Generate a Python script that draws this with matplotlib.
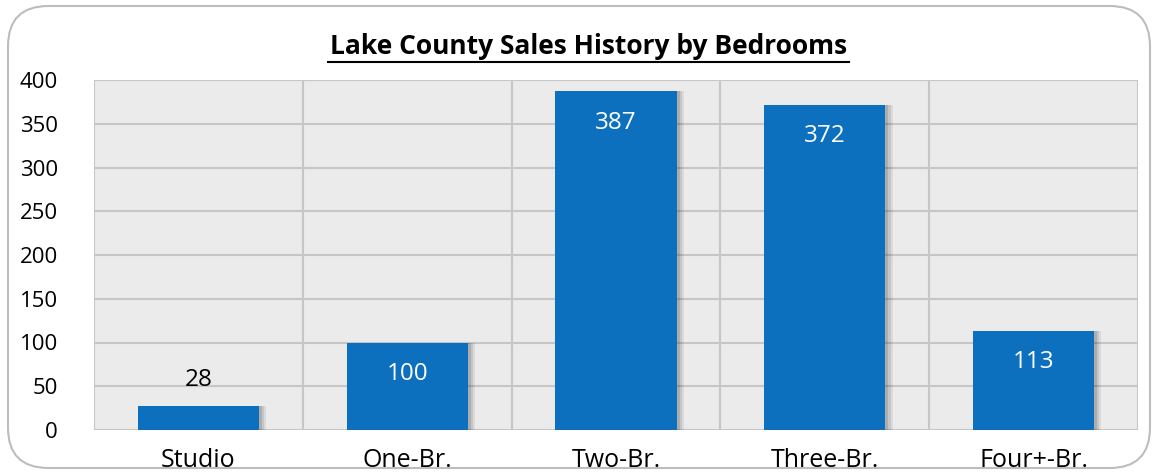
import matplotlib.pyplot as plt
import matplotlib.patches as mpatches
import numpy as np

categories = ['Studio', 'One-Br.', 'Two-Br.', 'Three-Br.', 'Four+-Br.']
sales = [28, 100, 387, 372, 113]
y_ticks = [0, 50, 100, 150, 200, 250, 300, 350, 400]

plt.rcParams['font.family'] = ['Open Sans', 'DejaVu Sans']

fig = plt.figure(figsize=(11.55, 4.74), dpi=100)

# rounded outer frame, kept behind the axes
frame = mpatches.FancyBboxPatch((8 / 1155, 6 / 474), 1142 / 1155, 462 / 474,
                                boxstyle='round,pad=0,rounding_size=0.035',
                                transform=fig.transFigure, facecolor='white',
                                edgecolor='#BDBDBD', linewidth=1.5, zorder=-5,
                                mutation_aspect=1155 / 474)
fig.patches.append(frame)

ax = fig.add_axes([94 / 1155, 44 / 474, 1044 / 1155, 350 / 474])
ax.set_facecolor('#EBEBEB')

x = np.arange(len(categories))
bar_w = 0.58

# soft shadow to the right of each bar
for dx, a in [(0.035, 0.07), (0.025, 0.09), (0.015, 0.12)]:
    ax.bar(x + dx, sales, width=bar_w, color='black', alpha=a, zorder=2,
           linewidth=0)
bars = ax.bar(x, sales, width=bar_w, color='#0C70BF', zorder=3, linewidth=0)

for xi, v in zip(x, sales):
    if v < 60:
        ax.text(xi, v + 16, str(v), ha='center', va='bottom', fontsize=17.5,
                color='black', zorder=4)
    else:
        ax.text(xi, v - 22, str(v), ha='center', va='top', fontsize=17.5,
                color='white', zorder=4)

ax.set_xlim(-0.5, len(categories) - 0.5)
ax.set_ylim(0, 400)
ax.set_yticks(y_ticks)
ax.set_yticklabels([str(t) for t in y_ticks], fontsize=16)
ax.set_xticks(x)
ax.set_xticklabels(categories, fontsize=18)
ax.tick_params(axis='x', length=0, pad=13)
ax.tick_params(axis='y', length=0, pad=26)

# horizontal grid plus category separators
for t in y_ticks:
    ax.axhline(t, color='#C6C6C6', linewidth=1.5, zorder=1)
for b in np.arange(-0.5, len(categories), 1.0):
    ax.axvline(b, color='#C6C6C6', linewidth=1.5, zorder=1)
for s in ax.spines.values():
    s.set_visible(False)

fig.text(589 / 1155, 1 - 47 / 474, 'Lake County Sales History by Bedrooms',
         ha='center', va='center', fontsize=19, fontweight='bold')
# underline under the title
fig.add_artist(plt.Line2D([328 / 1155, 849 / 1155],
                          [1 - 62 / 474, 1 - 62 / 474],
                          transform=fig.transFigure, color='black',
                          linewidth=1.5))

fig.savefig('out.png', dpi=100)
